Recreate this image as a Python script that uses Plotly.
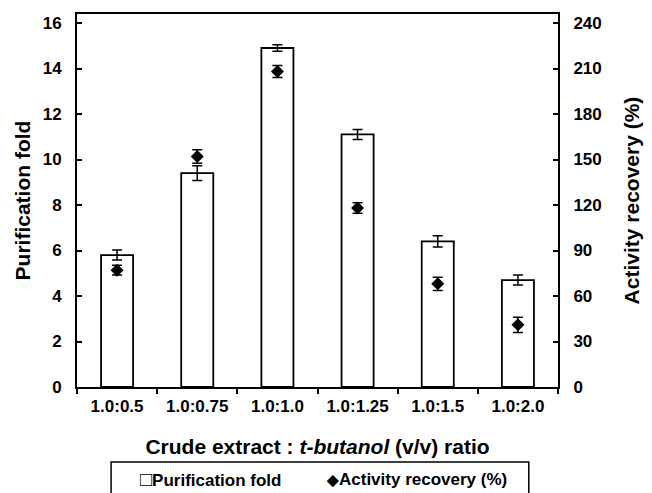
import plotly.graph_objects as go

# Crude extract : t-butanol ratios tested in the three-phase partitioning
ratios = ["1.0:0.5", "1.0:0.75", "1.0:1.0", "1.0:1.25", "1.0:1.5", "1.0:2.0"]

# Purification fold (left axis) with standard deviation
fold = [5.8, 9.4, 14.9, 11.1, 6.4, 4.7]
fold_err = [0.22, 0.32, 0.14, 0.22, 0.25, 0.22]

# Activity recovery in % (right axis) with standard deviation
recovery = [77, 152, 208, 118, 68, 41]
recovery_err = [3.2, 4.5, 4.0, 3.5, 4.4, 5.0]

left_ticks = list(range(0, 17, 2))
right_ticks = list(range(0, 241, 30))

W, H = 652, 493
ML, MR, MT, MB = 77, 81, 14, 106
PW, PH = W - ML - MR, H - MT - MB


def px_x(p):
    return (p - ML) / PW


def px_y(p):
    return (H - MB - p) / PH


FONT = "Liberation Sans, Arial, sans-serif"

fig = go.Figure()

fig.add_trace(go.Bar(
    x=ratios, y=fold, name="Purification fold",
    width=0.4,
    marker=dict(color="white", line=dict(color="black", width=1.8)),
    error_y=dict(type="data", array=fold_err, color="black", thickness=1.5, width=5),
    showlegend=False,
))

fig.add_trace(go.Scatter(
    x=ratios, y=recovery, name="Activity recovery (%)", yaxis="y2",
    mode="markers",
    marker=dict(symbol="diamond", size=10, color="black"),
    error_y=dict(type="data", array=recovery_err, color="black", thickness=1.5, width=5),
    showlegend=False,
))

tick_font = dict(family=FONT, size=17, color="black", weight="bold")
title_font = dict(family=FONT, size=21, color="black", weight="bold")
legend_font = dict(family=FONT, size=17, color="black", weight="bold")

fig.update_layout(
    width=W, height=H,
    margin=dict(l=ML, r=MR, t=MT, b=MB),
    paper_bgcolor="white", plot_bgcolor="white",
    bargap=0.6,
    xaxis=dict(
        type="category",
        showline=True, linecolor="black", linewidth=2, mirror=True,
        ticks="outside", ticklen=5, tickwidth=1.5, tickcolor="black",
        tickson="boundaries",
        tickfont=tick_font, ticklabelstandoff=3,
        showgrid=False,
        title=dict(text="Crude extract : <i>t-butanol</i> (v/v) ratio",
                   font=title_font, standoff=24),
    ),
    yaxis=dict(
        range=[0, PH / 22.75],
        tickvals=left_ticks,
        showline=True, linecolor="black", linewidth=2,
        ticks="inside", ticklen=5, tickwidth=1.5, tickcolor="black",
        tickfont=tick_font, ticklabelstandoff=10,
        showgrid=False, zeroline=False,
        title=dict(text="Purification fold", font=title_font, standoff=6),
    ),
    yaxis2=dict(
        overlaying="y", side="right",
        range=[0, PH / 22.75 * 15],
        tickvals=right_ticks,
        showline=True, linecolor="black", linewidth=2,
        ticks="inside", ticklen=5, tickwidth=1.5, tickcolor="black",
        tickfont=tick_font, ticklabelstandoff=10,
        showgrid=False, zeroline=False,
        title=dict(text="Activity recovery (%)", font=title_font, standoff=24),
    ),
    shapes=[dict(
        type="rect", xref="paper", yref="paper",
        x0=px_x(112), x1=px_x(541), y0=px_y(500), y1=px_y(462),
        line=dict(color="black", width=1.5), fillcolor="rgba(0,0,0,0)",
    )],
    annotations=[
        dict(text='<span style="font-size:20px;font-weight:normal">□</span>Purification fold',
             xref="paper", yref="paper",
             x=px_x(140), y=px_y(479), xanchor="left", yanchor="middle",
             showarrow=False, font=legend_font),
        dict(text='<span style="font-size:15px">◆</span>Activity recovery (%)',
             xref="paper", yref="paper",
             x=px_x(331), y=px_y(479), xanchor="left", yanchor="middle",
             showarrow=False, font=legend_font),
    ],
)

fig.write_html("out.html")
